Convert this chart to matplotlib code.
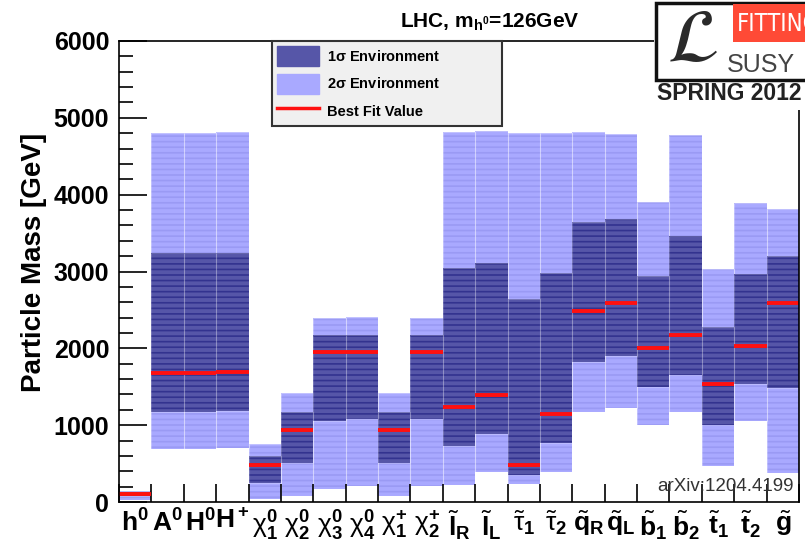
import numpy as np
import matplotlib
matplotlib.use('Agg')
import matplotlib.pyplot as plt
from matplotlib.patches import Patch, Rectangle
from matplotlib.lines import Line2D

plt.rcParams['font.family'] = ['Liberation Sans', 'DejaVu Sans']
plt.rcParams['mathtext.fontset'] = 'custom'
plt.rcParams['mathtext.rm'] = 'Liberation Sans'
plt.rcParams['mathtext.bf'] = 'Liberation Sans:bold'
plt.rcParams['mathtext.it'] = 'Liberation Sans:italic'
plt.rcParams['mathtext.sf'] = 'Liberation Sans'
plt.rcParams['hatch.linewidth'] = 1.2

# ---------------------------------------------------------------------------
# particle mass ranges [GeV]
particles = [r'$\mathbf{h^0}$', r'$\mathbf{A^0}$', r'$\mathbf{H^0}$', r'$\mathbf{H^+}$',
             r'$\mathrm{\chi}^{\mathbf{0}}_{\mathbf{1}}$', r'$\mathrm{\chi}^{\mathbf{0}}_{\mathbf{2}}$',
             r'$\mathrm{\chi}^{\mathbf{0}}_{\mathbf{3}}$', r'$\mathrm{\chi}^{\mathbf{0}}_{\mathbf{4}}$',
             r'$\mathrm{\chi}^{\mathbf{+}}_{\mathbf{1}}$', r'$\mathrm{\chi}^{\mathbf{+}}_{\mathbf{2}}$',
             r'$\tilde{\mathbf{l}}_{\mathbf{R}}$', r'$\tilde{\mathbf{l}}_{\mathbf{L}}$',
             r'$\tilde{\mathrm{\tau}}_{\mathbf{1}}$', r'$\tilde{\mathrm{\tau}}_{\mathbf{2}}$',
             r'$\tilde{\mathbf{q}}_{\mathbf{R}}$', r'$\tilde{\mathbf{q}}_{\mathbf{L}}$',
             r'$\tilde{\mathbf{b}}_{\mathbf{1}}$', r'$\tilde{\mathbf{b}}_{\mathbf{2}}$',
             r'$\tilde{\mathbf{t}}_{\mathbf{1}}$', r'$\tilde{\mathbf{t}}_{\mathbf{2}}$',
             r'$\tilde{\mathbf{g}}$']
best_fit = [105, 1675, 1675, 1696, 486, 937, 1956, 1956, 937, 1956, 1232,
            1393, 482, 1149, 2490, 2590, 2004, 2169, 1540, 2034, 2590]
sig1_lo = [80, 1175, 1175, 1188, 251, 503, 1058, 1076, 503, 1076, 733,
           885, 351, 764, 1826, 1900, 1493, 1653, 1002, 1536, 1480]
sig1_hi = [125, 3237, 3237, 3237, 603, 1175, 2173, 2173, 1175, 2173, 3041,
           3106, 2642, 2976, 3648, 3687, 2946, 3466, 2282, 2971, 3197]
sig2_lo = [25, 694, 694, 707, 35, 78, 169, 208, 82, 208, 217,
           386, 234, 395, 1175, 1219, 998, 1167, 472, 1058, 373]
sig2_hi = [140, 4799, 4799, 4810, 751, 1414, 2391, 2404, 1418, 2391, 4812,
           4833, 4799, 4804, 4812, 4786, 3900, 4777, 3032, 3896, 3818]
# ---------------------------------------------------------------------------

col2 = '#a9a9ff'
col2_stripe = '#9a9af4'
col1 = '#5656a8'
col1_stripe = '#33338f'

n = len(particles)
x = np.arange(n) + 0.5

fig = plt.figure(figsize=(8.05, 5.49), dpi=100)
ax = fig.add_axes([119/805, 47/549, 680/805, 461/549])

lo2, hi2 = np.array(sig2_lo), np.array(sig2_hi)
lo1, hi1 = np.array(sig1_lo), np.array(sig1_hi)
ax.bar(x, hi2 - lo2, bottom=lo2, width=1.0, color=col2, edgecolor=col2_stripe,
       hatch='---', linewidth=0, zorder=1)
ax.bar(x, hi2 - lo2, bottom=lo2, width=1.0, fill=False, edgecolor=(1, 1, 1, 0.3),
       linewidth=0.8, zorder=1.1)
ax.bar(x, hi1 - lo1, bottom=lo1, width=1.0, color=col1, edgecolor=col1_stripe,
       hatch='---', linewidth=0, zorder=2)
ax.bar(x, hi1 - lo1, bottom=lo1, width=1.0, fill=False, edgecolor=(1, 1, 1, 0.2),
       linewidth=0.8, zorder=2.1)
ax.hlines(best_fit, x - 0.5, x + 0.5, color='#ff1010', linewidth=2.8, zorder=3)

ax.set_xlim(0, n)
ax.set_ylim(0, 6000)
ax.set_xticks(x)
ax.set_xticklabels(particles, fontsize=19, fontweight='bold')
ax.set_xticks(np.arange(n + 1), minor=True)
ax.tick_params(axis='x', which='major', length=0, pad=5)
ax.tick_params(axis='x', which='minor', direction='in', length=13, width=1.2)
ax.set_yticks(np.arange(0, 6001, 1000))
ax.set_yticks(np.arange(0, 6001, 200), minor=True)
ax.tick_params(axis='y', which='major', direction='in', length=20, width=1.2,
               labelsize=18, pad=7)
ax.tick_params(axis='y', which='minor', direction='in', length=10, width=1.2)
for lab in ax.get_yticklabels():
    lab.set_fontweight('bold')
for sp in ax.spines.values():
    sp.set_linewidth(1.2)
    sp.set_zorder(5)
ax.set_axisbelow(False)

ax.set_ylabel('Particle Mass [GeV]', fontsize=20, fontweight='bold')
ax.yaxis.set_label_coords(-72/680, 0.52)

fig.text(400/805, 1 - 22/549, r'LHC, m$_{\mathbf{h}^{\mathbf{0}}}$=126GeV', fontsize=15,
         fontweight='bold', ha='left', va='center')

ax.text(0.993, 0.033, 'arXiv:1204.4199', transform=ax.transAxes, ha='right',
        va='center', fontsize=13.5, color='#333333', zorder=6)

handles = [Patch(facecolor=col1, edgecolor=col1), Patch(facecolor=col2, edgecolor=col2),
           Line2D([], [], color='#ff1010', linewidth=2.5)]
leg = ax.legend(handles, [r'1$\mathbf{\sigma}$ Environment', r'2$\mathbf{\sigma}$ Environment',
                          'Best Fit Value'],
                loc='upper left', bbox_to_anchor=(272/805, 1 - 139/549, 230/805, 98/549),
                bbox_transform=fig.transFigure, mode='expand', borderaxespad=0,
                fancybox=False, framealpha=1, prop={'weight': 'bold', 'size': 10.5},
                handlelength=2.9, handleheight=1.75, handletextpad=0.55,
                labelspacing=0.5, borderpad=0.35)
leg.get_frame().set_facecolor('#f0f0f0')
leg.get_frame().set_edgecolor('#333333')
leg.get_frame().set_linewidth(1.5)
leg.set_zorder(7)

# Fittino logo in the top right corner
fig.patches.append(Rectangle((654/805, 1 - 110/549), 160/805, 110/549, transform=fig.transFigure,
                             facecolor='white', edgecolor='none', zorder=8))
fig.patches.append(Rectangle((656/805, 1 - 80/549), 160/805, 77/549, transform=fig.transFigure,
                             facecolor='white', edgecolor='#111111', linewidth=2.5, zorder=8))
fig.patches.append(Rectangle((733/805, 1 - 42/549), 80/805, 38/549, transform=fig.transFigure,
                             facecolor='#ff4a36', edgecolor='none', zorder=9))
fig.text(737/805, 1 - 24/549, 'FITTINO', fontsize=17, color='white', ha='left', va='center',
         family='DejaVu Sans', fontstretch='condensed', zorder=10)
fig.text(692/805, 1 - 42/549, r'$\mathcal{L}$', fontsize=54, color='#2a2a2a', ha='center',
         va='center', math_fontfamily='stix', zorder=10)
fig.text(727/805, 1 - 65/549, 'SUSY', fontsize=18, color='#444444', ha='left', va='center',
         zorder=10)
fig.text(657/805, 1 - 93/549, 'SPRING 2012', fontsize=16.5, fontweight='bold',
         color='#222222', ha='left', va='center', zorder=10)

fig.savefig('out.png', dpi=100)
